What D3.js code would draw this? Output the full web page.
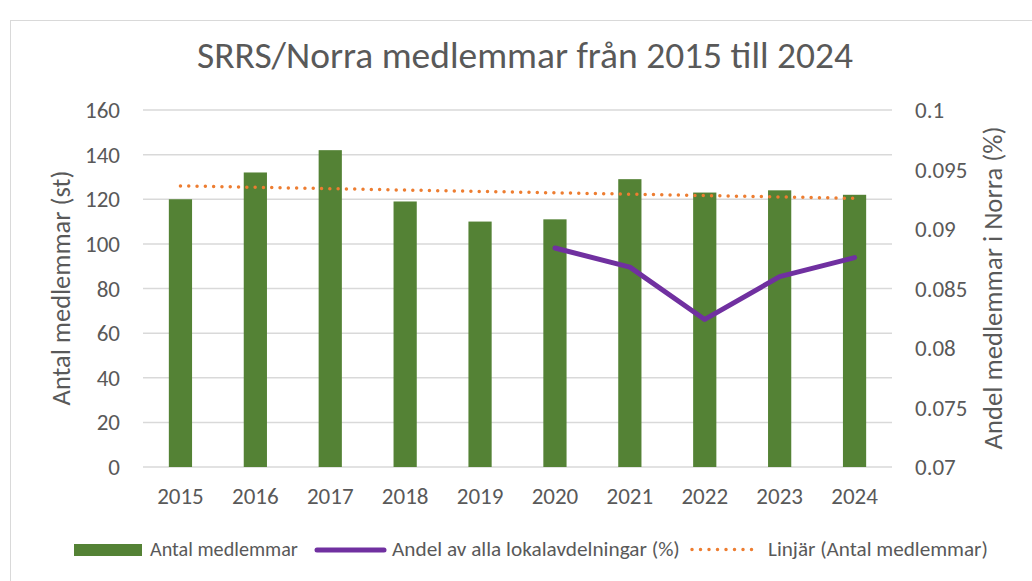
<!DOCTYPE html>
<html><head><meta charset="utf-8">
<script src="https://cdn.jsdelivr.net/npm/d3@7"></script>
<style>
html,body{margin:0;padding:0;background:#fff;}
text{font-family:Carlito,Lato,"Open Sans",sans-serif;fill:#595959;}
</style></head>
<body><svg id="c" width="1032" height="581"></svg>
<script>
const years = ["2015","2016","2017","2018","2019","2020","2021","2022","2023","2024"];
const members = [120,132,142,119,110,111,129,123,124,122];
const shareYears = ["2020","2021","2022","2023","2024"];
const shareValues = [0.0884,0.0868,0.0824,0.0860,0.0876];
const leftTicks = [0,20,40,60,80,100,120,140,160];
const rightTicks = [0.07,0.075,0.08,0.085,0.09,0.095,0.1];
const rightTickLabels = ["0.07","0.075","0.08","0.085","0.09","0.095","0.1"];
const titleText = "SRRS/Norra medlemmar från 2015 till 2024";
const leftTitle = "Antal medlemmar (st)";
const rightTitle = "Andel medlemmar i Norra (%)";
const legendLabels = ["Antal medlemmar","Andel av alla lokalavdelningar (%)","Linjär (Antal medlemmar)"];

const svg = d3.select("#c");
const m = {left:143, right:892, top:110, bottom:467};

function fit(sel, target){
  const n = sel.node();
  const fs = parseFloat(sel.attr("font-size"));
  const w = n.getComputedTextLength();
  sel.attr("font-size", fs*target/w);
  return fs*target/w;
}

// chart border
svg.append("rect").attr("x",10.5).attr("y",20.5).attr("width",1040).attr("height",580)
  .attr("fill","#fff").attr("stroke","#d9d9d9").attr("stroke-width",1);

const x = d3.scaleBand().domain(years).range([m.left,m.right]).paddingInner(0.69).paddingOuter(0.345);
const xc = d3.scaleBand().domain(years).range([m.left,m.right]);
const y = d3.scaleLinear().domain([0,160]).range([m.bottom,m.top]);
const y2 = d3.scaleLinear().domain([0.07,0.1]).range([m.bottom,m.top]);

// gridlines
svg.append("g").selectAll("line").data(leftTicks).join("line")
  .attr("x1",m.left).attr("x2",m.right)
  .attr("y1",d=>y(d)).attr("y2",d=>y(d))
  .attr("stroke","#d9d9d9").attr("stroke-width",1.5);

// bars
svg.append("g").selectAll("rect").data(members).join("rect")
  .attr("x",(d,i)=>x(years[i])).attr("width",x.bandwidth())
  .attr("y",d=>y(d)).attr("height",d=>y(0)-y(d))
  .attr("fill","#548235");

// trend line (least squares of members)
const n = members.length;
const xm = d3.mean(members.map((d,i)=>i));
const ym = d3.mean(members);
const slope = d3.sum(members.map((d,i)=>(i-xm)*(d-ym)))/d3.sum(members.map((d,i)=>(i-xm)*(i-xm)));
const icpt = ym - slope*xm;
const trend = [0,n-1].map(i=>[xc(years[i])+xc.bandwidth()/2, y(icpt+slope*i)]);
svg.append("path").attr("d",d3.line()(trend))
  .attr("fill","none").attr("stroke","#ED7D31").attr("stroke-width",3.5)
  .attr("stroke-linecap","round").attr("stroke-dasharray","0 8.3");

// share line
svg.append("path").datum(shareValues)
  .attr("d",d3.line().x((d,i)=>xc(shareYears[i])+xc.bandwidth()/2).y(d=>y2(d)))
  .attr("fill","none").attr("stroke","#7030A0").attr("stroke-width",5)
  .attr("stroke-linecap","round").attr("stroke-linejoin","round");

// left ticks
const lt = svg.append("g").selectAll("text").data(leftTicks).join("text")
  .attr("x",120).attr("y",d=>y(d)).attr("dy","0.35em").attr("text-anchor","end")
  .attr("font-size",19).text(d=>d);
const tfs = fit(d3.select(lt.nodes()[8]), 35);
lt.attr("font-size",tfs);

// right ticks
svg.append("g").selectAll("text").data(rightTicks).join("text")
  .attr("x",915).attr("y",d=>y2(d)).attr("dy","0.35em").attr("text-anchor","start")
  .attr("font-size",tfs).text((d,i)=>rightTickLabels[i]);

// x labels
svg.append("g").selectAll("text").data(years).join("text")
  .attr("x",d=>xc(d)+xc.bandwidth()/2).attr("y",504).attr("text-anchor","middle")
  .attr("font-size",tfs).text(d=>d);

// title
const t = svg.append("text").attr("x",525).attr("y",68).attr("text-anchor","middle")
  .attr("font-size",27).style("font-weight",300).text(titleText);
fit(t,656);

// axis titles
const at1 = svg.append("text").attr("transform","translate(70,288) rotate(-90)")
  .attr("text-anchor","middle").attr("font-size",21).text(leftTitle);
fit(at1,235);
const at2 = svg.append("text").attr("transform","translate(1002,288) rotate(-90)")
  .attr("text-anchor","middle").attr("font-size",21).text(rightTitle);
fit(at2,323);

// legend
const lg = svg.append("g");
lg.append("rect").attr("x",74).attr("y",544).attr("width",68).attr("height",12).attr("fill","#548235");
lg.append("line").attr("x1",317).attr("x2",384).attr("y1",550).attr("y2",550)
  .attr("stroke","#7030A0").attr("stroke-width",5).attr("stroke-linecap","round");
lg.append("line").attr("x1",692).attr("x2",760).attr("y1",549.5).attr("y2",549.5)
  .attr("stroke","#ED7D31").attr("stroke-width",3.5).attr("stroke-linecap","round").attr("stroke-dasharray","0 8.5");
const lx = [150,392,768], lw = [148,288,220];
legendLabels.forEach((s,i)=>{
  const tt = lg.append("text").attr("x",lx[i]).attr("y",556).attr("font-size",17).text(s);
  fit(tt,lw[i]);
});
</script></body></html>
